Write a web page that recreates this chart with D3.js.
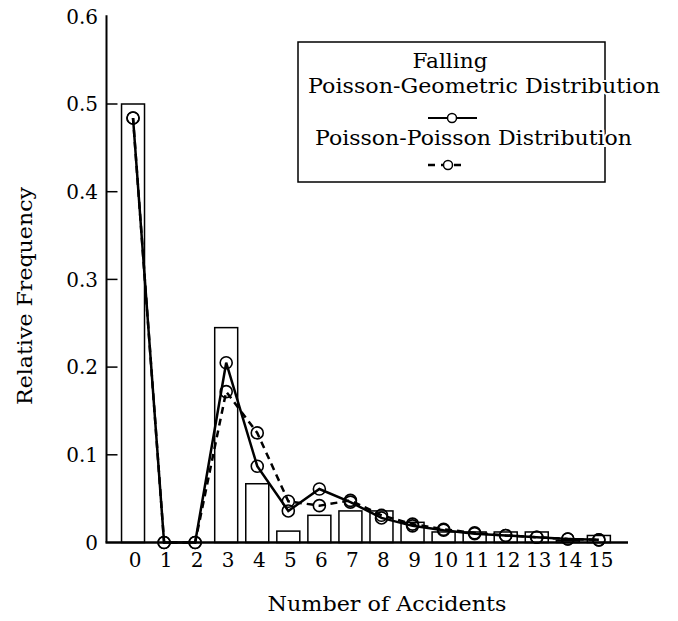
<!DOCTYPE html>
<html>
<head>
<meta charset="utf-8">
<script src="https://cdn.jsdelivr.net/npm/d3@7"></script>
<style>
  html, body { margin: 0; padding: 0; background: #fff; }
  svg { display: block; }
  text { font-family: "DejaVu Serif", "Liberation Serif", serif; fill: #000; }
</style>
</head>
<body>
<div id="chart"></div>
<script>
// ---- data ----
const categories = [0, 1, 2, 3, 4, 5, 6, 7, 8, 9, 10, 11, 12, 13, 14, 15];
const observed = [0.500, 0, 0, 0.245, 0.067, 0.013, 0.031, 0.036, 0.036, 0.023, 0.012, 0.012, 0.012, 0.012, 0.002, 0.008];
const poissonGeometric = [0.484, 0, 0, 0.205, 0.087, 0.036, 0.061, 0.046, 0.028, 0.019, 0.014, 0.010, 0.008, 0.006, 0.004, 0.003];
const poissonPoisson = [0.484, 0, 0, 0.172, 0.125, 0.047, 0.042, 0.048, 0.031, 0.021, 0.015, 0.011, 0.008, 0.006, 0.004, 0.003];
const yTicks = [0, 0.1, 0.2, 0.3, 0.4, 0.5, 0.6];
const yTickFormat = ["0", "0.1", "0.2", "0.3", "0.4", "0.5", "0.6"];
const legendTitle = "Falling";
const seriesNames = ["Poisson-Geometric Distribution", "Poisson-Poisson Distribution"];
const xTitle = "Number of Accidents";
const yTitle = "Relative Frequency";

// ---- layout ----
const W = 678, H = 621;
const svg = d3.select("#chart").append("svg").attr("width", W).attr("height", H);

const axisX = 106.5, baseY = 542.5;
const x = d3.scaleBand().domain(categories).range([117.5, 614.4]).paddingInner(0.26).paddingOuter(0.13);
const y = d3.scaleLinear().domain([0, 0.6]).range([baseY, 16.3]);
const cx = d => x(d) + x.bandwidth() / 2;

// bars
svg.append("g").selectAll("rect").data(categories.filter((c, i) => observed[i] > 0)).join("rect")
  .attr("x", d => x(d))
  .attr("y", d => y(observed[d]))
  .attr("width", x.bandwidth())
  .attr("height", d => y(0) - y(observed[d]))
  .attr("fill", "none").attr("stroke", "#000").attr("stroke-width", 1.5);

// y axis line & ticks
svg.append("line").attr("x1", axisX).attr("x2", axisX).attr("y1", y(0.6) - 1).attr("y2", baseY)
  .attr("stroke", "#000").attr("stroke-width", 2);
svg.append("line").attr("x1", axisX - 1).attr("x2", 628).attr("y1", baseY).attr("y2", baseY)
  .attr("stroke", "#000").attr("stroke-width", 2.5);

const yg = svg.append("g");
yg.selectAll("line").data(yTicks.filter(t => t > 0 && t < 0.6)).join("line")
  .attr("x1", axisX).attr("x2", axisX + 11)
  .attr("y1", d => y(d)).attr("y2", d => y(d))
  .attr("stroke", "#000").attr("stroke-width", 1.5);
yg.selectAll("text").data(yTicks).join("text")
  .attr("x", 98).attr("y", d => y(d)).attr("dy", "0.36em")
  .attr("text-anchor", "end").attr("font-size", 20)
  .text((d, i) => yTickFormat[i]);

// x labels
svg.append("g").selectAll("text").data(categories).join("text")
  .attr("x", d => cx(d) + 2).attr("y", 567)
  .attr("text-anchor", "middle").attr("font-size", 20)
  .text(d => d);

// lines
const lineGen = vals => d3.line().x((d) => cx(d)).y(d => y(vals[d]));
svg.append("path").datum(categories).attr("d", lineGen(poissonPoisson))
  .attr("fill", "none").attr("stroke", "#000").attr("stroke-width", 2.5)
  .attr("stroke-dasharray", "7,5");
svg.append("path").datum(categories).attr("d", lineGen(poissonGeometric))
  .attr("fill", "none").attr("stroke", "#000").attr("stroke-width", 2.5);

// markers
[poissonPoisson, poissonGeometric].forEach(vals => {
  svg.append("g").selectAll("circle").data(categories).join("circle")
    .attr("cx", d => cx(d)).attr("cy", d => y(vals[d])).attr("r", 6)
    .attr("fill", "none").attr("stroke", "#000").attr("stroke-width", 1.6);
});

// legend
const lg = svg.append("g");
lg.append("rect").attr("x", 298).attr("y", 42).attr("width", 307).attr("height", 140)
  .attr("fill", "#fff").attr("stroke", "#000").attr("stroke-width", 1.5);
const legTxt = (t, xc, yb, len) => lg.append("text").attr("x", xc).attr("y", yb)
  .attr("text-anchor", "middle").attr("font-size", 20)
  .attr("textLength", len).attr("lengthAdjust", "spacingAndGlyphs")
  .attr("stroke", "#fff").attr("stroke-width", 4).attr("paint-order", "stroke")
  .text(t);
legTxt(legendTitle, 450, 68, 75);
legTxt(seriesNames[0], 484, 93, 352);
legTxt(seriesNames[1], 473.5, 145, 317);
// solid symbol
lg.append("line").attr("x1", 428).attr("x2", 477).attr("y1", 118).attr("y2", 118)
  .attr("stroke", "#000").attr("stroke-width", 1.8);
lg.append("circle").attr("cx", 452).attr("cy", 118).attr("r", 4.5)
  .attr("fill", "#fff").attr("stroke", "#000").attr("stroke-width", 1.5);
// dashed symbol
lg.append("line").attr("x1", 428).attr("x2", 466).attr("y1", 165).attr("y2", 165)
  .attr("stroke", "#000").attr("stroke-width", 2.5).attr("stroke-dasharray", "7,6,0,0");
lg.append("circle").attr("cx", 448).attr("cy", 165).attr("r", 4.5)
  .attr("fill", "#fff").attr("stroke", "#000").attr("stroke-width", 1.5);

// axis titles
svg.append("text").attr("x", 387).attr("y", 611).attr("text-anchor", "middle")
  .attr("font-size", 21).attr("textLength", 239).attr("lengthAdjust", "spacingAndGlyphs").text(xTitle);
svg.append("text").attr("transform", "translate(32,296) rotate(-90)").attr("text-anchor", "middle")
  .attr("font-size", 21).attr("textLength", 218).attr("lengthAdjust", "spacingAndGlyphs").text(yTitle);
</script>
</body>
</html>
